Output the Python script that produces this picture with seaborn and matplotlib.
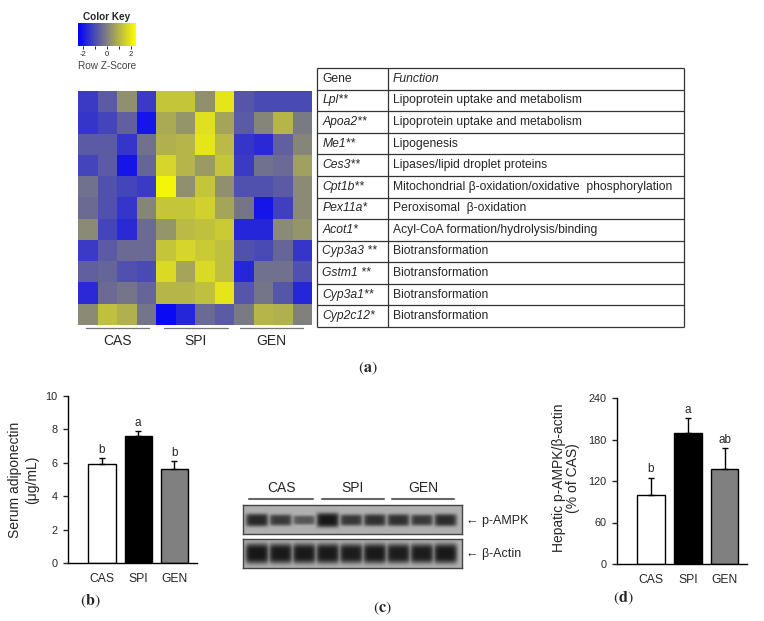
import numpy as np
import pandas as pd
import seaborn as sns
import matplotlib.pyplot as plt
from matplotlib.colors import LinearSegmentedColormap

# ---- data ----
genes = ["Lpl**", "Apoa2**", "Me1**", "Ces3**", "Cpt1b**", "Pex11a*", "Acot1*",
         "Cyp3a3 **", "Gstm1 **", "Cyp3a1**", "Cyp2c12*"]
functions = ["Lipoprotein uptake and metabolism",
             "Lipoprotein uptake and metabolism",
             "Lipogenesis",
             "Lipases/lipid droplet proteins",
             "Mitochondrial β-oxidation/oxidative  phosphorylation",
             "Peroxisomal  β-oxidation",
             "Acyl-CoA formation/hydrolysis/binding",
             "Biotransformation",
             "Biotransformation",
             "Biotransformation",
             "Biotransformation"]
samples = ["CAS1", "CAS2", "CAS3", "CAS4", "SPI1", "SPI2", "SPI3", "SPI4",
           "GEN1", "GEN2", "GEN3", "GEN4"]
zscores = [
    [-1.3, -0.7, 0.3, -1.3, 1.3, 1.3, 0.3, 1.9, -0.8, -1.0, -1.0, -1.0],
    [-1.4, -1.1, -0.6, -2.0, 0.8, 0.4, 1.8, 0.7, -0.7, 0.1, 1.0, -0.1],
    [-0.7, -0.7, -1.4, -0.3, 0.9, 1.0, 1.9, 1.1, -1.4, -1.6, -0.6, 0.1],
    [-1.1, -0.7, -2.0, -0.5, 1.6, 1.0, 0.5, 1.3, -1.3, -0.3, -0.4, 0.6],
    [-0.3, -0.9, -1.1, -1.3, 2.2, 0.3, 1.3, 0.3, -0.9, -0.9, -0.7, 0.2],
    [-0.4, -0.9, -1.4, 0.1, 1.3, 1.3, 1.5, 0.7, -0.2, -2.0, -1.2, 0.2],
    [0.2, -1.1, -1.6, -0.4, 0.4, 1.1, 1.2, 1.4, -1.7, -1.7, 0.2, 0.4],
    [-1.3, -0.7, -0.4, -0.4, 1.3, 1.6, 1.4, 1.2, -0.9, -1.0, -0.5, -1.4],
    [-0.6, -0.5, -0.9, -1.0, 1.7, 0.7, 1.7, 1.2, -1.7, -0.3, -0.3, -0.9],
    [-1.6, -0.4, -0.2, -0.5, 1.0, 1.0, 1.2, 1.9, -0.8, -0.2, -0.8, -1.7],
    [0.2, 1.2, 0.9, -0.2, -2.2, -1.7, -0.4, -0.7, -0.1, 1.0, 0.9, 0.0],
]

groups = ["CAS", "SPI", "GEN"]
bar_colors = ["white", "black", "#808080"]
adiponectin = [5.9, 7.6, 5.6]
adiponectin_se = [0.4, 0.3, 0.5]
adiponectin_sig = ["b", "a", "b"]
pampk_ratio = [100, 189, 138]
pampk_se = [25, 22, 30]
pampk_sig = ["b", "a", "ab"]

# western blot band strength per lane (3 lanes per group)
pampk_bands = [0.8, 0.6, 0.35, 1.0, 0.62, 0.7, 0.7, 0.6, 0.75]
actin_bands = [1.0, 0.97, 0.97, 0.97, 0.93, 0.97, 0.93, 0.93, 0.97]

# ---- figure ----
sns.set_theme(style="white")
plt.rcParams["font.family"] = ["Liberation Sans", "DejaVu Sans"]
plt.rcParams["mathtext.fontset"] = "stix"

W, H = 764, 621
fig = plt.figure(figsize=(W / 100, H / 100), dpi=100)


def px_axes(x0, y0, x1, y1):
    return fig.add_axes([x0 / W, 1 - y1 / H, (x1 - x0) / W, (y1 - y0) / H])


# (a) heatmap + colour key
cmap = LinearSegmentedColormap.from_list("bgy", ["#0000ff", "#808080", "#ffff00"])
hm = pd.DataFrame(zscores, index=genes, columns=samples)
hm_ax = px_axes(78, 91, 312, 325)
key_ax = px_axes(78, 23, 136, 46)
sns.heatmap(hm, ax=hm_ax, cmap=cmap, vmin=-2.4, vmax=2.4, cbar_ax=key_ax,
            cbar_kws={"orientation": "horizontal", "ticks": [-2, -1, 0, 1, 2]},
            xticklabels=False, yticklabels=False)
key_ax.set_xticklabels(["-2", "", "0", "", "2"], fontsize=5.5)
key_ax.tick_params(axis="x", length=2.5, width=0.7, pad=1, bottom=True, colors="#222")
hm_ax.collections[0].colorbar.outline.set_visible(False)

# table
tab = px_axes(317, 68, 684, 327)
tab.set_xlim(0, 1)
tab.set_ylim(12, 0)
tab.axis("off")
tab.hlines(range(13), 0, 1, color="#333", lw=0.9, clip_on=False)
tab.vlines([0, 0.193, 1], 0, 12, color="#333", lw=0.9, clip_on=False)
tab.text(0.014, 0.5, "Gene", fontsize=8.7, va="center")
tab.text(0.207, 0.5, "Function", fontsize=8.7, va="center", style="italic")
for i, (g, f) in enumerate(zip(genes, functions)):
    tab.text(0.014, i + 1.5, g, fontsize=8.7, va="center", style="italic")
    tab.text(0.207, i + 1.5, f, fontsize=8.7, va="center")


# (b) and (d) bar charts
def bar_panel(ax, vals, errs, sig, ymax, step, ylabel, xlim, label_xy, off, lsp):
    sns.barplot(x=groups, y=vals, hue=groups, palette=bar_colors, edgecolor="black",
                linewidth=1, width=0.75, ax=ax, legend=False, zorder=2)
    ax.errorbar(range(len(groups)), vals, yerr=[np.zeros(len(vals)), errs], fmt="none",
                ecolor="black", elinewidth=1, capsize=2.5, capthick=1, zorder=3)
    for i, (v, e, s) in enumerate(zip(vals, errs, sig)):
        ax.text(i, v + e + off, s, ha="center", va="bottom", fontsize=8.5)
    ax.set_ylim(0, ymax)
    ax.set_yticks(np.arange(0, ymax + step / 2, step))
    ax.set_xlim(*xlim)
    sns.despine(ax=ax)
    for sp in ["left", "bottom"]:
        ax.spines[sp].set_color("black")
        ax.spines[sp].set_linewidth(1)
    ax.tick_params(axis="y", left=True, length=3.5, width=1, labelsize=7.8, pad=4)
    ax.tick_params(axis="x", bottom=False, labelsize=8.7, pad=1.5)
    ax.set_xlabel("")
    ax.set_ylabel(ylabel, fontsize=10, linespacing=lsp)
    ax.yaxis.set_label_coords(*label_xy)


ax_b = px_axes(68, 396, 197, 563)
bar_panel(ax_b, adiponectin, adiponectin_se, adiponectin_sig, 10, 2,
          "Serum adiponectin\n(μg/mL)", (-0.94, 2.63), (-0.225, 0.5), 0.12, 1.3)

ax_d = px_axes(617, 398, 747, 564)
bar_panel(ax_d, pampk_ratio, pampk_se, pampk_sig, 240, 60,
          "Hepatic p-AMPK/β-actin\n(% of CAS)", (-0.925, 2.61), (-0.285, 0.52), 3, 1.0)


# (c) western blot
def blot(ax, strength, yc, half_h, width):
    xs = np.linspace(-0.59, 8.69, 440)
    ys = np.linspace(0, 1, 90)
    X, Y = np.meshgrid(xs, ys)
    img = np.zeros_like(X)
    for i, v in enumerate(strength):
        dx = np.abs(X - i) / width
        dy = np.abs(Y - yc) / (half_h * (0.45 + 0.55 * v))
        img = np.maximum(img, np.sqrt(v) * np.exp(-dx ** 6) * np.exp(-dy ** 4))
    ax.imshow(0.69 - 0.6 * np.clip(img, 0, 1), cmap="gray", vmin=0, vmax=1,
              extent=[-0.59, 8.69, 1, 0], aspect="auto", interpolation="bilinear")
    ax.set_xticks([])
    ax.set_yticks([])
    for sp in ax.spines.values():
        sp.set_visible(True)
        sp.set_color("#444")
        sp.set_linewidth(1)


blot(px_axes(243, 505, 462, 534), pampk_bands, 0.52, 0.25, 0.48)
blot(px_axes(243, 539, 462, 568), actin_bands, 0.5, 0.35, 0.5)

# annotation layer in pixel coordinates
ov = fig.add_axes([0, 0, 1, 1])
ov.set_xlim(0, W)
ov.set_ylim(H, 0)
ov.axis("off")

ov.text(107, 17, "Color Key", fontsize=7.2, fontweight="bold", ha="center", va="center")
ov.text(107, 66, "Row Z-Score", fontsize=7.2, color="#444", ha="center", va="center")

for g, (x0, x1) in zip(groups, [(86, 149), (164, 228), (240, 303)]):
    ov.plot([x0, x1], [328, 328], color="#777", lw=0.9)
    ov.text((x0 + x1) / 2, 341, g, fontsize=10, ha="center", va="center")

for g, (x0, x1) in zip(groups, [(249, 313), (322, 384), (392, 454)]):
    ov.plot([x0, x1], [499, 499], color="#666", lw=1.5)
    ov.text((x0 + x1) / 2, 488, g, fontsize=10, ha="center", va="center")
ov.text(466, 521, "← p-AMPK", fontsize=9, ha="left", va="center")
ov.text(466, 554, "← β-Actin", fontsize=9, ha="left", va="center")

for s, (x, y) in zip("abcd", [(368, 368), (90, 601), (382, 608), (623, 598)]):
    ov.text(x, y, r"$(\mathbf{%s})$" % s, fontsize=11.5, ha="center", va="center")

fig.savefig("out.png", dpi=100)
